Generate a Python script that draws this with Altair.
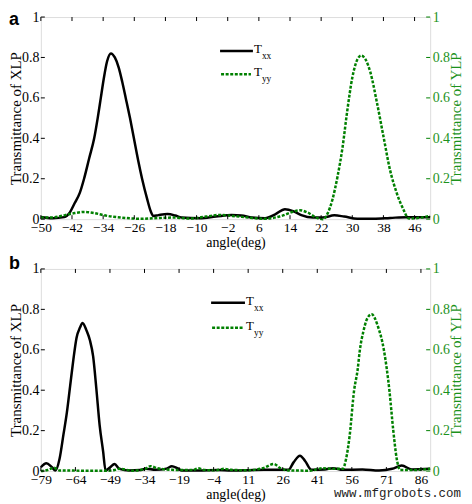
import altair as alt
import pandas as pd

# ---------------- data ----------------
# panel a
ang_a_xx = [-50, -47, -44, -42.5, -41.3, -40, -38.9, -37.6, -36.3, -35.4, -34.6, -33.8, -33, -32,
            -31, -30, -29.1, -28.2, -27.1, -26.1, -25, -24, -22.7, -21.8, -21.1, -19.8, -17.5,
            -15.5, -13.9, -9.2, -5, -1, 1.5, 4.2, 7.6, 10.2, 12.7, 14.8, 16.9, 19.9, 22.4, 25.4,
            27.9, 31.3, 35.5, 39.7, 43.9, 50]
txx_a = [0.011, 0.005, 0.01, 0.035, 0.08, 0.13, 0.2, 0.3, 0.4, 0.5, 0.6, 0.7, 0.78, 0.82,
         0.80, 0.75, 0.68, 0.6, 0.5, 0.4, 0.29, 0.2, 0.1, 0.04, 0.016, 0.02, 0.025,
         0.018, 0.008, 0.005, 0.013, 0.02, 0.018, 0.008, 0.005, 0.024, 0.049, 0.04, 0.02, 0.008, 0.008, 0.019,
         0.013, 0.002, 0.002, 0.006, 0.01, 0.01]
ang_a_yy = [-50, -47.2, -43.8, -41.3, -38.8, -36.3, -32.9, -29.5, -24.4, -19.4, -16, -11.8, -7.5,
            -4.2, -0.8, 4.3, 7.6, 11.8, 14.8, 16.5, 18.6, 20.7, 22.4, 23.7, 24.9, 26.2, 27.5,
            28.7, 30, 31.3, 32.3, 33.4, 34.6, 36.3, 38, 39.7, 41.4, 43.1, 44.5, 46.5, 50]
tyy_a = [0.008, 0.008, 0.02, 0.03, 0.036, 0.03, 0.016, 0.008, 0.002, 0.006, 0.008, 0.003, 0.013,
         0.021, 0.016, 0.006, 0.002, 0.016, 0.037, 0.044, 0.032, 0.008, 0.0, 0.03, 0.097, 0.21, 0.356,
         0.535, 0.70, 0.79, 0.81, 0.79, 0.73, 0.58, 0.41, 0.243, 0.13, 0.049, 0.003, 0.005, 0.016]
xticks_a = [-50, -42, -34, -26, -18, -10, -2, 6, 14, 22, 30, 38, 46]

# panel b
ang_b_xx = [-79, -76.6, -74.2, -72.7, -70.9, -69.2, -67.7, -66.3, -64.9, -63.5, -62, -60.9, -59.2,
            -57.7, -56.3, -54.9, -53.5, -52, -50.9, -48.9, -47, -44.9, -40.6, -36, -33.5, -29.2,
            -24.5, -22.1, -19.5, -17.8, -10.7, -2.1, 3.6, 10.7, 17.8, 28.5, 30.7, 33.5, 35.7, 38.5,
            44.3, 47.8, 52.1, 60.6, 67.8, 73.5, 77.7, 82, 90]
txx_b = [0.019, 0.039, 0.019, 0.003, 0.06, 0.18, 0.29, 0.42, 0.55, 0.66, 0.71, 0.733, 0.696,
         0.647, 0.567, 0.406, 0.229, 0.1, 0.003, 0.019, 0.035, 0.011, 0.003, 0.005, 0.011, 0.006,
         0.012, 0.024, 0.012, 0.003, 0.003, 0.005, 0.003, 0.004, 0.006, 0.006, 0.043, 0.076, 0.05, 0.006,
         0.008, 0.014, 0.006, 0.008, 0.003, 0.011, 0.027, 0.008, 0.011]
ang_b_yy = [-79, -76, -73.4, -70.9, -60, -50, -47, -44.9, -39.2, -34, -31.4, -28.5, -22.1, -13,
            -10.7, -8, -3, 0.7, 3.6, 10.7, 17.8, 22.1, 25, 28.5, 37.8, 43.5, 47.8, 52.1, 53.5, 55,
            57, 58.5, 59.5, 61, 62.5, 64.6, 67.2, 69.9, 72.3, 74, 75.5, 77, 82, 90]
tyy_b = [0.0, 0.005, 0.016, 0.003, 0.002, 0.002, 0.005, 0.011, 0.002, 0.01, 0.024, 0.014, 0.006, 0.005,
         0.014, 0.005, 0.004, 0.011, 0.006, 0.004, 0.016, 0.035, 0.014, 0.003, 0.002, 0.014, 0.011, 0.011, 0.06, 0.17,
         0.4, 0.5, 0.6, 0.69, 0.75, 0.776, 0.72, 0.6, 0.4, 0.2, 0.06, 0.005, 0.005, 0.011]
xticks_b = [-79, -64, -49, -34, -19, -4, 11, 26, 41, 56, 71, 86]

yticks = [0, 0.2, 0.4, 0.6, 0.8, 1]
series_names = ["T", "xx", "yy"]

# ---------------- style ----------------
SERIF = "Liberation Serif"
GREEN = "#008000"
GREEN_TXT = "#1c921c"
W = 391
H = 203


def panel(ang_xx, vxx, ang_yy, vyy, xdom, xticks, letter, letter_y, letter_base, leg):
    dxx = pd.DataFrame({"angle": ang_xx, "T": vxx})
    dyy = pd.DataFrame({"angle": ang_yy, "T": vyy})
    dxt = pd.DataFrame({"angle": xticks})
    dyt = pd.DataFrame({"T": yticks})
    xsc = alt.Scale(domain=xdom, nice=False, zero=False)
    ysc = alt.Scale(domain=[0, 1], nice=False, zero=False)
    xaxis = alt.Axis(values=xticks, title="angle(deg)", ticks=False, grid=False, domain=False,
                     labelFont=SERIF, labelFontSize=13.5, labelPadding=1, labelColor="black",
                     labelFlush=False, labelOverlap=False,
                     titleFont=SERIF, titleFontSize=14, titleFontWeight="normal",
                     titlePadding=2, titleColor="black")
    X = alt.X("angle:Q", scale=xsc, axis=xaxis)
    yl_axis = alt.Axis(orient="left", values=yticks, format="~g", title="Transmittance of XLP",
                       ticks=False, grid=False, domain=False, labelFont=SERIF, labelFontSize=14,
                       labelPadding=2, labelColor="black", labelFlush=False,
                       titleFont=SERIF, titleFontSize=15, titleFontWeight="normal",
                       titlePadding=-2, titleColor="black")
    yr_axis = alt.Axis(orient="right", values=yticks, format="~g", title="Transmittance of YLP",
                       ticks=False, grid=False, domain=False, labelFont=SERIF, labelFontSize=14,
                       labelPadding=2, labelColor=GREEN_TXT, labelFlush=False,
                       titleFont=SERIF, titleFontSize=15, titleFontWeight="normal",
                       titleAngle=270, titleBaseline="top",
                       titlePadding=-1, titleColor=GREEN_TXT)

    line_xx = alt.Chart(dxx).mark_line(color="black", strokeWidth=2.5, interpolate="monotone").encode(
        x=X, y=alt.Y("T:Q", scale=ysc, axis=yl_axis))
    line_yy = alt.Chart(dyy).mark_line(color=GREEN, strokeWidth=2.5, strokeDash=[3, 1.6],
                                       interpolate="monotone").encode(
        x=X, y=alt.Y("T:Q", scale=ysc, axis=yr_axis))

    tk_bot = alt.Chart(dxt).mark_rule(color="black", strokeWidth=1).encode(
        x=X, y=alt.value(H), y2=alt.value(H - 4))
    tk_top = alt.Chart(dxt).mark_rule(color="black", strokeWidth=1).encode(
        x=X, y=alt.value(0), y2=alt.value(4))
    tk_left = alt.Chart(dyt).mark_rule(color="black", strokeWidth=1).encode(
        y=alt.Y("T:Q", scale=ysc, axis=None), x=alt.value(0), x2=alt.value(4))
    tk_right = alt.Chart(dyt).mark_rule(color=GREEN, strokeWidth=1).encode(
        y=alt.Y("T:Q", scale=ysc, axis=None), x=alt.value(W - 4), x2=alt.value(W))

    one = pd.DataFrame({"k": [0]})
    lx0, lx1, ly1, ly2 = leg
    leg_xx = alt.Chart(one).mark_rule(color="black", strokeWidth=2.5).encode(
        x=alt.value(lx0), x2=alt.value(lx1), y=alt.value(ly1))
    leg_yy = alt.Chart(one).mark_rule(color=GREEN, strokeWidth=2.5, strokeDash=[3, 1.6]).encode(
        x=alt.value(lx0 + 1), x2=alt.value(lx1 - 2), y=alt.value(ly2))
    txt = []
    for ly, sub in ((ly1, series_names[1]), (ly2, series_names[2])):
        txt.append(alt.Chart(one).mark_text(text=series_names[0], font=SERIF, fontSize=13,
                                            align="left", baseline="alphabetic", color="black").encode(
            x=alt.value(lx1 + 1), y=alt.value(ly + 2)))
        txt.append(alt.Chart(one).mark_text(text=sub, font=SERIF, fontSize=9.5,
                                            align="left", baseline="alphabetic", color="black").encode(
            x=alt.value(lx1 + 9), y=alt.value(ly + 8)))

    let = alt.Chart(one).mark_text(text=letter, font="Liberation Sans", fontSize=18, fontWeight="bold",
                                   align="left", baseline=letter_base, color="black").encode(
        x=alt.value(-32), y=alt.value(letter_y))

    layers = [line_xx, line_yy, tk_bot, tk_top, tk_left, tk_right, leg_xx, leg_yy] + txt + [let]
    return layers


pa = panel(ang_a_xx, txx_a, ang_a_yy, tyy_a, [-50, 50], xticks_a, "a", -6, "top",
           (180, 213, 34, 57.5))
pb = panel(ang_b_xx, txx_b, ang_b_yy, tyy_b, [-79, 90], xticks_b, "b", 0, "alphabetic",
           (171, 205, 34, 59))

one = pd.DataFrame({"k": [0]})
wm = alt.Chart(one).mark_text(text="www.mfgrobots.com", font="Liberation Mono", fontSize=12.5,
                              align="right", baseline="alphabetic", color="#222222").encode(
    x=alt.value(W + 31), y=alt.value(H + 26))
pb.append(wm)

top = alt.layer(*pa).resolve_scale(y="independent").properties(width=W, height=H)
bot = alt.layer(*pb).resolve_scale(y="independent").properties(width=W, height=H)

chart = alt.vconcat(top, bot, spacing=4).properties(
    padding={"left": 0, "top": 0, "right": 0, "bottom": 0}
).configure_view(stroke="black", strokeWidth=1).configure(background="white")

chart.save("out.html", embed_options={"renderer": "svg", "actions": False})
